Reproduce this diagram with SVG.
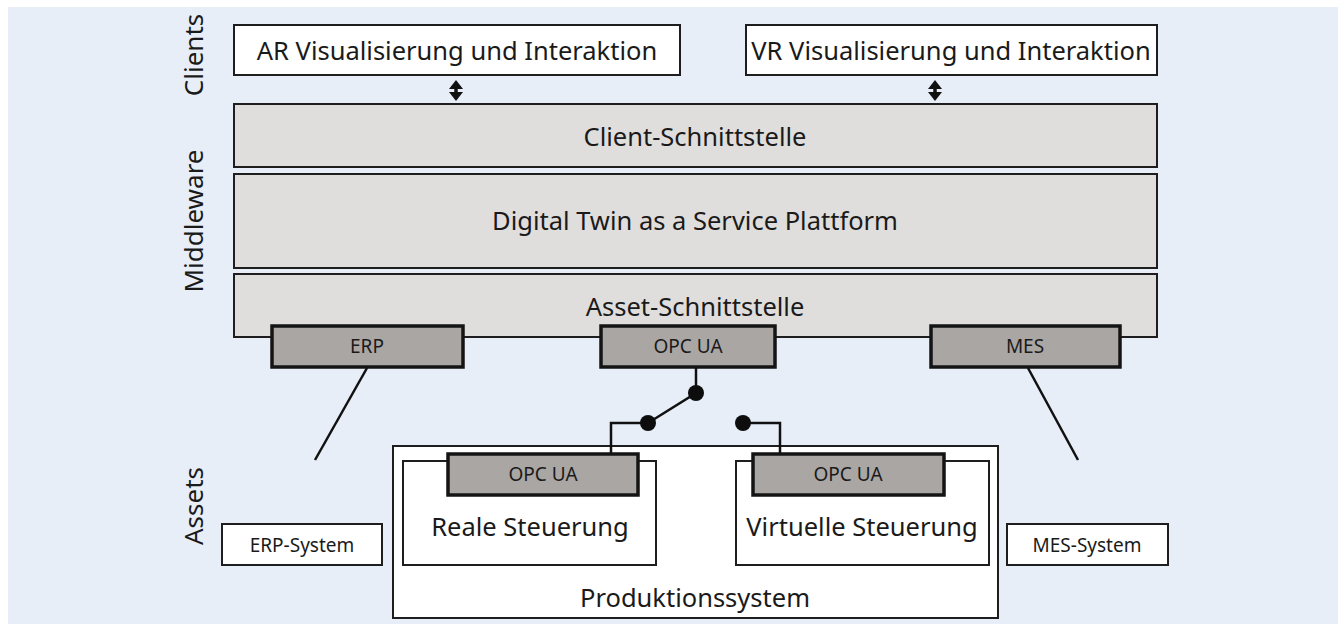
<svg xmlns="http://www.w3.org/2000/svg" width="1338" height="624" viewBox="0 0 1338 624">
<defs>
<style>
text{font-family:"Noto Sans","Open Sans","DejaVu Sans",sans-serif;fill:#1a1a1a;text-anchor:middle;dominant-baseline:central}
.w{fill:#ffffff;stroke:#1e1e1e;stroke-width:2}
.mw{fill:#e0dedc;stroke:#1e1e1e;stroke-width:2}
.ifc{fill:#aaa6a4;stroke:#141414;stroke-width:3.5}
.big{font-size:25.5px}
.sm{font-size:19px}
.ln{fill:none;stroke:#111;stroke-width:2.5}
.dot{fill:#0d0d0d}
.lbl{font-size:26px}
.ah{fill:#111}
.sh{stroke:#111;stroke-width:3.5}
</style>
</defs>
<rect x="0" y="0" width="1338" height="624" fill="#ffffff"/>
<rect x="8" y="7" width="1330" height="617" fill="#e8eef8"/>

<g id="layer-labels">
<text class="lbl" transform="translate(193,55) rotate(-90)">Clients</text>
<text class="lbl" transform="translate(193,221) rotate(-90)">Middleware</text>
<text class="lbl" transform="translate(193,506) rotate(-90)">Assets</text>
</g>

<g id="ar-client"><rect class="w" x="234" y="25" width="446" height="50"/><text class="big" x="457" y="50">AR Visualisierung und Interaktion</text></g>
<g id="vr-client"><rect class="w" x="746" y="25" width="411" height="50"/><text class="big" x="951" y="50">VR Visualisierung und Interaktion</text></g>

<g id="client-schnittstelle"><rect class="mw" x="234" y="104" width="923" height="63"/><text class="big" x="695" y="136">Client-Schnittstelle</text></g>
<g id="dtaas"><rect class="mw" x="234" y="174" width="923" height="94"/><text class="big" x="695" y="220">Digital Twin as a Service Plattform</text></g>
<g id="asset-schnittstelle"><rect class="mw" x="234" y="274" width="923" height="63"/><text class="big" x="695" y="306">Asset-Schnittstelle</text></g>

<g id="erp-if"><rect class="ifc" x="272" y="326" width="191" height="41"/><text class="sm" x="367" y="346">ERP</text></g>
<g id="opc-if"><rect class="ifc" x="601" y="326" width="174" height="41"/><text class="sm" x="688" y="346">OPC UA</text></g>
<g id="mes-if"><rect class="ifc" x="931" y="326" width="189" height="41"/><text class="sm" x="1025" y="346">MES</text></g>

<g id="erp-system"><rect class="w" x="222" y="524" width="160" height="41"/><text class="sm" x="302" y="545">ERP-System</text></g>
<g id="mes-system"><rect class="w" x="1007" y="524" width="161" height="41"/><text class="sm" x="1087" y="545">MES-System</text></g>

<g id="produktionssystem"><rect class="w" x="393" y="446" width="605" height="172"/><text class="big" x="695" y="597">Produktionssystem</text></g>
<g id="reale-steuerung"><rect class="w" x="403" y="461" width="253" height="104"/><text class="big" x="530" y="526">Reale Steuerung</text>
<rect class="ifc" x="448" y="454" width="190" height="41"/><text class="sm" x="543" y="474">OPC UA</text></g>
<g id="virtuelle-steuerung"><rect class="w" x="736" y="461" width="253" height="104"/><text class="big" x="862" y="526">Virtuelle Steuerung</text>
<rect class="ifc" x="753" y="454" width="191" height="41"/><text class="sm" x="848" y="474">OPC UA</text></g>

<g id="connectors">
<g id="arrow-ar">
<line class="sh" x1="456" y1="85" x2="456" y2="96"/>
<polygon class="ah" points="456,80 449,89 463,89"/>
<polygon class="ah" points="456,101 449,92 463,92"/>
</g>
<g id="arrow-vr">
<line class="sh" x1="935" y1="85" x2="935" y2="96"/>
<polygon class="ah" points="935,80 928,89 942,89"/>
<polygon class="ah" points="935,101 928,92 942,92"/>
</g>
<line class="ln" x1="367" y1="368" x2="315" y2="460"/>
<line class="ln" x1="1028" y1="368" x2="1078" y2="460"/>
<polyline class="ln" points="696,368 696,393 648,423"/>
<polyline class="ln" points="648,423 611,423 611,453"/>
<polyline class="ln" points="743,423 780,423 780,453"/>
<circle class="dot" cx="696" cy="393" r="8"/>
<circle class="dot" cx="648" cy="423" r="8"/>
<circle class="dot" cx="743" cy="423" r="8"/>
</g>
</svg>
